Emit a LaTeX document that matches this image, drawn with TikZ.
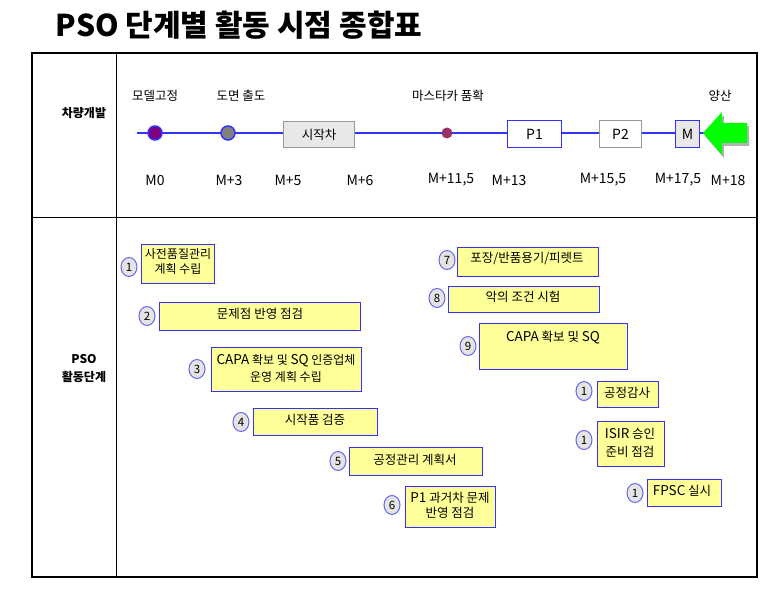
\documentclass[tikz,border=0pt]{standalone}
\usepackage{fontspec}
\setmainfont{Noto Sans CJK KR}
\usetikzlibrary{shapes.geometric}
\definecolor{tlblue}{HTML}{3333FF}
\definecolor{boxblue}{HTML}{3333FF}
\definecolor{ylw}{HTML}{FFFF99}
\definecolor{numblue}{HTML}{6666EE}
\definecolor{numgray}{HTML}{E4E4E4}
\definecolor{lgray}{HTML}{E8E8E8}
\definecolor{mgray}{HTML}{999999}
\definecolor{dotpurple}{HTML}{800080}
\definecolor{dotgray}{HTML}{808080}
\definecolor{dotwine}{HTML}{993366}
\definecolor{arrgreen}{HTML}{00FF00}
\newcommand{\latw}[1]{{\fontsize{13.5}{15}\selectfont #1}}
\tikzset{
  txt/.style={font=\fontsize{12.5}{15}\selectfont, inner sep=0pt, align=center},
  ltxt/.style={font=\fontsize{14}{15}\selectfont, inner sep=0pt, align=center},
  ybox/.style={draw=boxblue, fill=ylw, line width=1.2pt, inner sep=0pt, anchor=north west},
  numc/.style={ellipse, draw=numblue, fill=numgray, line width=1pt, minimum width=16pt, minimum height=19pt, inner sep=0pt, font=\fontsize{11.5}{11}\selectfont},
  tbox/.style={inner sep=0pt, anchor=north west, line width=1pt},
  bigdot/.style={circle, draw=tlblue, line width=1.5pt, minimum size=14pt, inner sep=0pt},
}
\begin{document}
\begin{tikzpicture}[x=1pt,y=-1pt]
\useasboundingbox (0,0) rectangle (772,593);
% title
\node[inner sep=0pt, font=\fontsize{30}{32}\selectfont\bfseries] (title) at (239,25) {PSO 단계별 활동 시점 종합표};
% table
\draw[line width=2pt] (32,53) rectangle (757,577);
\draw[line width=1pt] (116,53) -- (116,577);
\draw[line width=1pt] (32,218) -- (757,218);
\node[txt, font=\fontsize{12}{15}\selectfont\bfseries] (rowA) at (84,113) {차량개발};
\node[txt, font=\fontsize{12}{18}\selectfont\bfseries] (rowB) at (84,369) {PSO\\활동단계};
% timeline
\coordinate (tlstart) at (137,133);
\coordinate (tlend) at (704,133);
\draw[tlblue, line width=2pt] (tlstart) -- (tlend);
\node[bigdot, fill=dotpurple] (m0) at (155,133) {};
\node[bigdot, fill=dotgray] (m3) at (228,133) {};
\node[tbox, draw=mgray, fill=lgray, minimum width=71pt, minimum height=26pt] (sijak) at (283,121) {};
\node[txt] (sijakt) at (sijak.center) {시작차};
\node[circle, fill=dotwine, minimum size=11pt, inner sep=0pt] (mc) at (447,133) {};
\node[tbox, draw=tlblue, fill=white, minimum width=54pt, minimum height=27pt] (p1) at (507,120) {};
\node[ltxt] (p1t) at (p1.center) {P1};
\node[tbox, draw=mgray, fill=white, minimum width=42pt, minimum height=27pt] (p2) at (599,120) {};
\node[ltxt] (p2t) at (p2.center) {P2};
\node[tbox, draw=tlblue, fill=lgray, minimum width=24pt, minimum height=27pt] (mb) at (675,120) {};
\node[ltxt] (mbt) at (mb.center) {M};
% green arrow
\coordinate (atip) at (703,133);
\fill[gray!60] (705,136) -- (724,115) -- (724,126) -- (749,126) -- (749,146) -- (724,146) -- (724,158) -- cycle;
\fill[arrgreen] (atip) -- (722,112) -- (722,123) -- (747,123) -- (747,143) -- (722,143) -- (722,155) -- cycle;
% labels above
\node[txt] (l1) at (155,96) {모델고정};
\node[txt] (l2) at (241,96) {도면 출도};
\node[txt] (l3) at (448,96) {마스타카 품확};
\node[txt] (l4) at (720,96) {양산};
% labels below
\node[ltxt] (t1) at (155,180) {M0};
\node[ltxt] (t2) at (229,180) {M+3};
\node[ltxt] (t3) at (288,180) {M+5};
\node[ltxt] (t4) at (360,180) {M+6};
\node[ltxt] (t5) at (451,180) {M+11,5};
\node[ltxt] (t6) at (509,180) {M+13};
\node[ltxt] (t7) at (603,180) {M+15,5};
\node[ltxt] (t8) at (678,180) {M+17,5};
\node[ltxt] (t9) at (728,180) {M+18};
% activity boxes
\node[ybox, minimum width=73pt, minimum height=39pt] (b1) at (141,244) {};
\node[txt, font=\fontsize{12}{15}\selectfont] (b1t) at (178,262) {사전품질관리\\계획 수립};
\node[numc] (c1) at (129,267) {1};
\node[ybox, minimum width=201pt, minimum height=28pt] (b2) at (159,302) {};
\node[txt] (b2t) at (260,314) {문제점 반영 점검};
\node[numc] (c2) at (147,316) {2};
\node[ybox, minimum width=150pt, minimum height=44pt] (b3) at (211,347) {};
\node[txt, font=\fontsize{12}{17}\selectfont] (b3t) at (286,368) {\latw{CAPA} 확보 및 \latw{SQ} 인증업체\\운영 계획 수립};
\node[numc] (c3) at (197,369) {3};
\node[ybox, minimum width=124pt, minimum height=27pt] (b4) at (253,408) {};
\node[txt] (b4t) at (315,420) {시작품 검증};
\node[numc] (c4) at (241,422) {4};
\node[ybox, minimum width=133pt, minimum height=28pt] (b5) at (349,447) {};
\node[txt] (b5t) at (415,460) {공정관리 계획서};
\node[numc] (c5) at (338,461) {5};
\node[ybox, minimum width=90pt, minimum height=41pt] (b6) at (405,486) {};
\node[txt] (b6t) at (450,505) {\latw{P1} 과거차 문제\\반영 점검};
\node[numc] (c6) at (392,505) {6};
\node[ybox, minimum width=141pt, minimum height=29pt] (b7) at (457,247) {};
\node[txt] (b7t) at (527,258) {포장/반품용기/피렛트};
\node[numc] (c7) at (447,260) {7};
\node[ybox, minimum width=151pt, minimum height=26pt] (b8) at (448,286) {};
\node[txt] (b8t) at (523,297) {악의 조건 시험};
\node[numc] (c8) at (437,298) {8};
\node[ybox, minimum width=148pt, minimum height=46pt] (b9) at (479,323) {};
\node[txt] (b9t) at (553,338) {\latw{CAPA} 확보 및 \latw{SQ}};
\node[numc] (c9) at (468,346) {9};
\node[ybox, minimum width=61pt, minimum height=26pt] (b10) at (597,381) {};
\node[txt] (b10t) at (627,393) {공정감사};
\node[numc] (c10) at (584,391) {1};
\node[ybox, minimum width=67pt, minimum height=45pt] (b11) at (597,421) {};
\node[txt, font=\fontsize{12.5}{18}\selectfont] (b11t) at (630,443) {\latw{ISIR} 승인\\준비 점검};
\node[numc] (c11) at (584,440) {1};
\node[ybox, minimum width=74pt, minimum height=27pt] (b12) at (647,479) {};
\node[txt] (b12t) at (682,491) {\latw{FPSC} 실시};
\node[numc] (c12) at (635,493) {1};
\end{tikzpicture}
\end{document}
